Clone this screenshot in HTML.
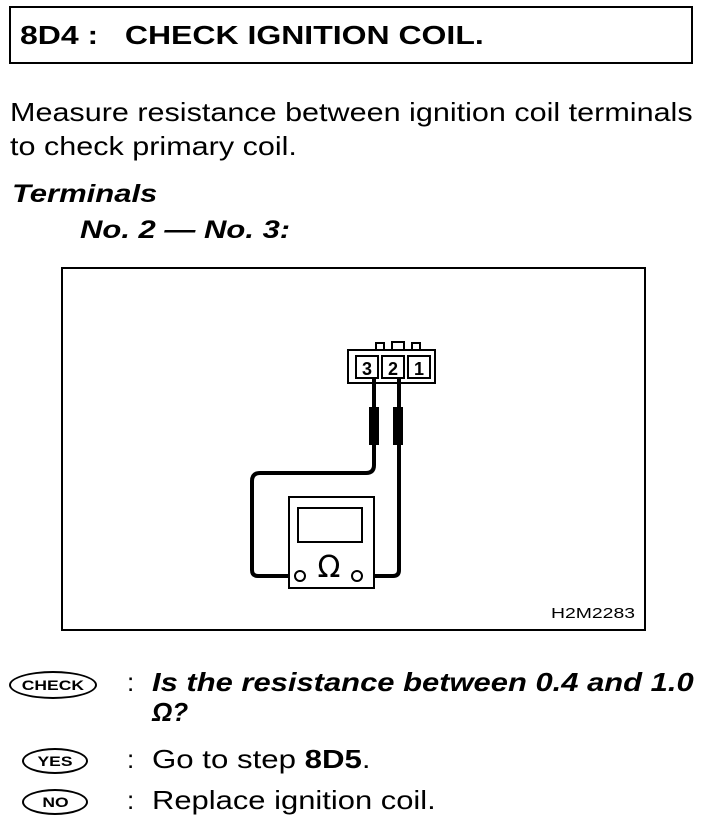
<!DOCTYPE html>
<html><head><style>
body{margin:0;width:704px;height:830px;background:#fff;position:relative;font-family:"Liberation Sans",Arial,sans-serif;color:#000;overflow:hidden}
.a{position:absolute;white-space:nowrap;transform-origin:0 0}
.oval{position:absolute;border:2px solid #000;border-radius:50%;font-weight:bold;font-size:14px;text-align:center;box-sizing:border-box}
.oval span{display:inline-block;transform:scaleX(1.25)}
</style></head><body>
<div class="a" style="left:9px;top:6px;width:680px;height:54px;border:2px solid #000"></div>
<div class="a" style="left:20px;top:20px;font-size:26px;font-weight:bold;transform:scaleX(1.23)">8D4 :&nbsp;&nbsp;&nbsp;CHECK IGNITION COIL.</div>
<div class="a" style="left:10px;top:97px;font-size:26px;transform:scaleX(1.175)">Measure resistance between ignition coil terminals</div>
<div class="a" style="left:10px;top:131px;font-size:26px;transform:scaleX(1.175)">to check primary coil.</div>
<div class="a" style="left:12px;top:180px;font-size:25px;font-weight:bold;font-style:italic;transform:scaleX(1.24)">Terminals</div>
<div class="a" style="left:80px;top:216px;font-size:25px;font-weight:bold;font-style:italic;transform:scaleX(1.24)">No. 2 — No. 3:</div>
<svg class="a" style="left:0;top:0" width="704" height="830">
<rect x="62" y="268" width="583" height="362" fill="none" stroke="#000" stroke-width="2"/>
<rect x="348" y="350" width="87" height="33" fill="none" stroke="#000" stroke-width="2"/>
<rect x="356" y="356" width="22" height="22" fill="none" stroke="#000" stroke-width="2"/>
<rect x="382" y="356" width="22" height="22" fill="none" stroke="#000" stroke-width="2"/>
<rect x="408" y="356" width="22" height="22" fill="none" stroke="#000" stroke-width="2"/>
<path d="M376 350v-7h8v7M392 350v-8h12v8M412 350v-7h8v7" fill="none" stroke="#000" stroke-width="2"/>
<text x="367" y="375" font-size="18" font-weight="bold" text-anchor="middle" font-family="Liberation Sans">3</text>
<text x="393" y="375" font-size="18" font-weight="bold" text-anchor="middle" font-family="Liberation Sans">2</text>
<text x="419" y="375" font-size="18" font-weight="bold" text-anchor="middle" font-family="Liberation Sans">1</text>
<path d="M374 378V465q0 8-8 8H260q-8 0-8 8V570q0 6 6 6H295" fill="none" stroke="#000" stroke-width="4"/>
<path d="M399 378V570q0 6-6 6H362" fill="none" stroke="#000" stroke-width="4"/>
<rect x="369" y="407" width="10" height="38" fill="#000"/>
<rect x="393" y="407" width="10" height="38" fill="#000"/>
<rect x="289" y="497" width="85" height="91" fill="#fff" stroke="#000" stroke-width="2"/>
<rect x="298" y="508" width="64" height="34" fill="none" stroke="#000" stroke-width="2"/>
<circle cx="300" cy="576" r="5" fill="#fff" stroke="#000" stroke-width="2"/>
<circle cx="357" cy="576" r="5" fill="#fff" stroke="#000" stroke-width="2"/>
<text x="329" y="577" font-size="30" text-anchor="middle" font-family="DejaVu Sans">Ω</text>
<text x="551" y="618" font-size="15" font-family="Liberation Sans" textLength="84" lengthAdjust="spacingAndGlyphs">H2M2283</text>
</svg>
<div class="oval" style="left:9px;top:671px;width:88px;height:28px;line-height:24px"><span>CHECK</span></div>
<div class="a" style="left:127px;top:667px;font-size:26px">:</div>
<div class="a" style="left:152px;top:667px;font-size:26px;font-weight:bold;font-style:italic;transform:scaleX(1.19)">Is the resistance between 0.4 and 1.0</div>
<div class="a" style="left:152px;top:697px;font-size:26px;font-weight:bold;font-style:italic">Ω?</div>
<div class="oval" style="left:22px;top:748px;width:66px;height:26px;line-height:22px"><span>YES</span></div>
<div class="a" style="left:127px;top:744px;font-size:26px">:</div>
<div class="a" style="left:152px;top:744px;font-size:26px;transform:scaleX(1.2)">Go to step <b>8D5</b>.</div>
<div class="oval" style="left:22px;top:789px;width:66px;height:26px;line-height:22px"><span>NO</span></div>
<div class="a" style="left:127px;top:785px;font-size:26px">:</div>
<div class="a" style="left:152px;top:785px;font-size:26px;transform:scaleX(1.19)">Replace ignition coil.</div>
</body></html>
